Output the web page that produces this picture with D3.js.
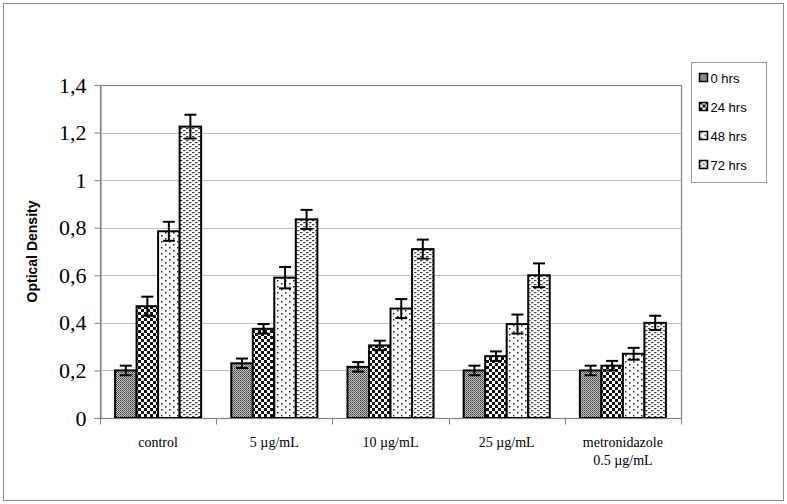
<!DOCTYPE html>
<html>
<head>
<meta charset="utf-8">
<script src="https://cdn.jsdelivr.net/npm/d3@7"></script>
<style>
  body { margin: 0; background: #fff; }
</style>
</head>
<body>
<script>
// data
const categories = ["control", "5 µg/mL", "10 µg/mL", "25 µg/mL", "metronidazole\n0.5 µg/mL"];
const seriesNames = ["0 hrs", "24 hrs", "48 hrs", "72 hrs"];
const values0  = [0.20, 0.23, 0.215, 0.20, 0.20];
const values24 = [0.47, 0.375, 0.305, 0.26, 0.22];
const values48 = [0.785, 0.59, 0.46, 0.395, 0.27];
const values72 = [1.225, 0.835, 0.71, 0.60, 0.40];
const err0  = [0.02, 0.02, 0.02, 0.02, 0.02];
const err24 = [0.04, 0.02, 0.02, 0.02, 0.02];
const err48 = [0.04, 0.045, 0.04, 0.04, 0.025];
const err72 = [0.05, 0.04, 0.04, 0.05, 0.03];
const yTicks = [0, 0.2, 0.4, 0.6, 0.8, 1, 1.2, 1.4];

const allValues = [values0, values24, values48, values72];
const allErrors = [err0, err24, err48, err72];

let svg, x, xInner, y;
const W = 787, H = 504;
const plot = {left: 100, top: 85, right: 681, bottom: 418};

setupSvg();
setupPatterns();
setupScales();
drawFrame();
drawGrid();
drawBars();
drawAxes();
drawLegend();

function setupSvg() {
  svg = d3.select("body").append("svg")
    .attr("width", W)
    .attr("height", H);
  svg.append("rect")
    .attr("x", 3.5).attr("y", 3.5)
    .attr("width", 780).attr("height", 497)
    .attr("fill", "#fff")
    .attr("stroke", "#8a8a8a");
}

function setupPatterns() {
  const defs = svg.append("defs");
  // 0 hrs: fine gray checker
  let p = defs.append("pattern").attr("id", "p0")
    .attr("width", 2).attr("height", 2).attr("patternUnits", "userSpaceOnUse");
  p.append("rect").attr("width", 2).attr("height", 2).attr("fill", "#c4c4c4");
  p.append("rect").attr("width", 1).attr("height", 1).attr("fill", "#3a3a3a");
  p.append("rect").attr("x", 1).attr("y", 1).attr("width", 1).attr("height", 1).attr("fill", "#6a6a6a");

  // 24 hrs: coarse checkerboard
  p = defs.append("pattern").attr("id", "p24")
    .attr("width", 6).attr("height", 6).attr("patternUnits", "userSpaceOnUse");
  p.append("rect").attr("width", 6).attr("height", 6).attr("fill", "#fff");
  p.append("rect").attr("width", 3).attr("height", 3).attr("fill", "#111");
  p.append("rect").attr("x", 3).attr("y", 3).attr("width", 3).attr("height", 3).attr("fill", "#111");

  // 48 hrs: sparse dots
  p = defs.append("pattern").attr("id", "p48")
    .attr("width", 8).attr("height", 6).attr("patternUnits", "userSpaceOnUse");
  p.append("rect").attr("width", 8).attr("height", 6).attr("fill", "#fff");
  p.append("rect").attr("x", 1).attr("y", 1).attr("width", 1.5).attr("height", 1.5).attr("fill", "#222");
  p.append("rect").attr("x", 5).attr("y", 4).attr("width", 1.5).attr("height", 1.5).attr("fill", "#222");

  // 72 hrs: small dashes
  p = defs.append("pattern").attr("id", "p72")
    .attr("width", 6).attr("height", 4).attr("patternUnits", "userSpaceOnUse");
  p.append("rect").attr("width", 6).attr("height", 4).attr("fill", "#fff");
  p.append("rect").attr("x", 0).attr("y", 0).attr("width", 2.5).attr("height", 1.2).attr("fill", "#444");
  p.append("rect").attr("x", 3).attr("y", 2).attr("width", 2.5).attr("height", 1.2).attr("fill", "#444");
}

function setupScales() {
  x = d3.scaleBand()
    .domain(categories)
    .range([plot.left, plot.right]);
  xInner = d3.scaleBand()
    .domain(seriesNames)
    .range([0, x.bandwidth()])
    .paddingOuter(0.7);
  y = d3.scaleLinear()
    .domain([0, 1.4])
    .range([plot.bottom, plot.top]);
}

function drawFrame() {
  svg.append("rect")
    .attr("x", plot.left + 0.5).attr("y", plot.top + 0.5)
    .attr("width", plot.right - plot.left).attr("height", plot.bottom - plot.top)
    .attr("fill", "#fff")
    .attr("stroke", "#808080")
    .attr("stroke-width", 1.2);
}

function drawGrid() {
  svg.append("g")
    .selectAll("line")
    .data(yTicks.filter(d => d > 0 && d < 1.4))
    .enter().append("line")
    .attr("x1", plot.left).attr("x2", plot.right)
    .attr("y1", d => Math.round(y(d)) + 0.5)
    .attr("y2", d => Math.round(y(d)) + 0.5)
    .attr("stroke", "#bdbdbd");
}

function drawBars() {
  const ids = ["p0", "p24", "p48", "p72"];
  const bw = xInner.bandwidth();
  seriesNames.forEach((s, si) => {
    const g = svg.append("g");
    g.selectAll("rect")
      .data(categories)
      .enter().append("rect")
      .attr("x", c => x(c) + xInner(s))
      .attr("y", (c, i) => y(allValues[si][i]))
      .attr("width", bw)
      .attr("height", (c, i) => y(0) - y(allValues[si][i]))
      .attr("fill", `url(#${ids[si]})`)
      .attr("stroke", "#000")
      .attr("stroke-width", 2);

    // error bars
    const eb = g.selectAll("g.err")
      .data(categories)
      .enter().append("g")
      .attr("class", "err");
    const cx = c => x(c) + xInner(s) + bw / 2;
    eb.append("line")
      .attr("x1", cx).attr("x2", cx)
      .attr("y1", (c, i) => y(allValues[si][i] + allErrors[si][i]))
      .attr("y2", (c, i) => y(allValues[si][i] - allErrors[si][i]))
      .attr("stroke", "#000").attr("stroke-width", 2);
    [1, -1].forEach(sign => {
      eb.append("line")
        .attr("x1", c => cx(c) - 6).attr("x2", c => cx(c) + 6)
        .attr("y1", (c, i) => y(allValues[si][i] + sign * allErrors[si][i]))
        .attr("y2", (c, i) => y(allValues[si][i] + sign * allErrors[si][i]))
        .attr("stroke", "#000").attr("stroke-width", 2);
    });
  });
}

function drawAxes() {
  // y axis
  const yAxis = svg.append("g")
    .attr("transform", `translate(${plot.left + 0.5},0)`)
    .call(d3.axisLeft(y).tickValues(yTicks).tickSize(6).tickPadding(8)
      .tickFormat(d => String(d).replace(".", ",")));
  yAxis.select(".domain").attr("stroke", "#808080");
  yAxis.selectAll(".tick line").attr("stroke", "#808080");
  yAxis.selectAll("text")
    .attr("font-family", "Liberation Serif, Times New Roman, serif")
    .attr("font-size", 22)
    .attr("fill", "#000");

  svg.append("text")
    .attr("transform", `translate(37, ${(plot.top + plot.bottom) / 2}) rotate(-90)`)
    .attr("text-anchor", "middle")
    .attr("font-family", "Liberation Sans, Arial, sans-serif")
    .attr("font-weight", "bold")
    .attr("font-size", 14)
    .text("Optical Density");

  // x axis
  const xAxis = svg.append("g")
    .attr("transform", `translate(0,${plot.bottom + 0.5})`);
  xAxis.append("line")
    .attr("x1", plot.left).attr("x2", plot.right)
    .attr("stroke", "#808080").attr("stroke-width", 1.2);
  const bounds = categories.map(c => x(c)).concat([x.range()[1]]);
  xAxis.selectAll("line.tk")
    .data(bounds)
    .enter().append("line")
    .attr("class", "tk")
    .attr("x1", d => Math.round(d) + 0.5).attr("x2", d => Math.round(d) + 0.5)
    .attr("y1", 0).attr("y2", 6)
    .attr("stroke", "#808080");
  const lbl = xAxis.selectAll("text")
    .data(categories)
    .enter().append("text")
    .attr("text-anchor", "middle")
    .attr("font-family", "Liberation Serif, Times New Roman, serif")
    .attr("font-size", 14)
    .attr("fill", "#000");
  lbl.each(function(c) {
    const lines = c.split("\n");
    d3.select(this).selectAll("tspan")
      .data(lines)
      .enter().append("tspan")
      .attr("x", x(c) + x.bandwidth() / 2)
      .attr("y", (d, i) => 28 + i * 18)
      .text(d => d);
  });
}

function drawLegend() {
  const ids = ["p0", "p24", "p48", "p72"];
  const lg = svg.append("g").attr("transform", "translate(691.5,62.5)");
  lg.append("rect")
    .attr("width", 75).attr("height", 120)
    .attr("fill", "#fff")
    .attr("stroke", "#9a9a9a");
  const items = lg.selectAll("g.item")
    .data(seriesNames)
    .enter().append("g")
    .attr("class", "item")
    .attr("transform", (d, i) => `translate(8, ${16 + i * 29})`);
  items.append("rect")
    .attr("x", 0).attr("y", -5)
    .attr("width", 8).attr("height", 8)
    .attr("fill", (d, i) => `url(#${ids[i]})`)
    .attr("stroke", "#000")
    .attr("stroke-width", 1.5);
  items.append("text")
    .attr("x", 11).attr("y", 4.5)
    .attr("font-family", "Liberation Sans, Arial, sans-serif")
    .attr("font-size", 13)
    .attr("fill", "#000")
    .text(d => d);
}
</script>
</body>
</html>
